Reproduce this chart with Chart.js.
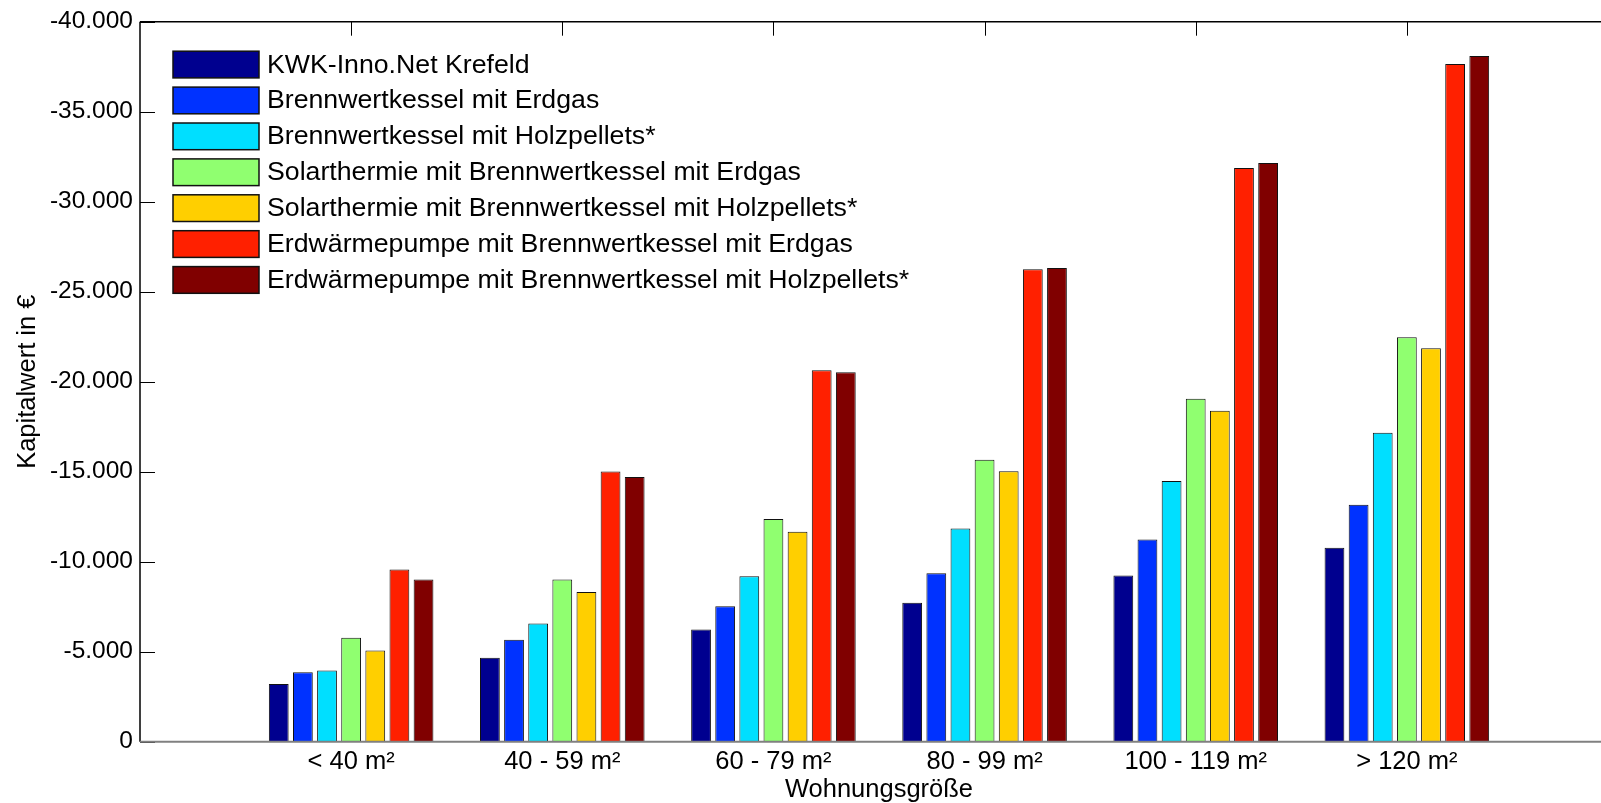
<!DOCTYPE html>
<html>
<head>
<meta charset="utf-8">
<script src="https://cdn.jsdelivr.net/npm/chart.js@4/dist/chart.umd.min.js"></script>
<style>
  html, body { margin: 0; padding: 0; background: #fff; overflow: hidden; }
  canvas { display: block; }
</style>
</head>
<body>
<canvas id="c" width="1620" height="803"></canvas>
<script>
// Kapitalwert in € per Wohnungsgröße
const categories = ['< 40 m²', '40 - 59 m²', '60 - 79 m²', '80 - 99 m²', '100 - 119 m²', '> 120 m²'];
const seriesNames = [
  'KWK-Inno.Net Krefeld',
  'Brennwertkessel mit Erdgas',
  'Brennwertkessel mit Holzpellets*',
  'Solarthermie mit Brennwertkessel mit Erdgas',
  'Solarthermie mit Brennwertkessel mit Holzpellets*',
  'Erdwärmepumpe mit Brennwertkessel mit Erdgas',
  'Erdwärmepumpe mit Brennwertkessel mit Holzpellets*'
];
const kwk         = [-3200, -4670, -6230, -7720, -9230, -10770];
const bwkErdgas   = [-3860, -5670, -7530, -9360, -11240, -13170];
const bwkHolz     = [-3950, -6560, -9190, -11850, -14480, -17170];
const solarErdgas = [-5780, -9010, -12370, -15670, -19050, -22470];
const solarHolz   = [-5060, -8310, -11670, -15030, -18390, -21860];
const erdErdgas   = [-9570, -15010, -20630, -26250, -31870, -37650];
const erdHolz     = [-9010, -14700, -20530, -26310, -32150, -38090];
const yTicks = [0, -5000, -10000, -15000, -20000, -25000, -30000, -35000, -40000];

const colors = ['#00008f', '#0032ff', '#00dfff', '#90ff70', '#ffcf00', '#ff2000', '#800000'];
const FONT = '"Liberation Sans", Arial, sans-serif';

function fmt(v) {
  if (v === 0) return '0';
  const s = String(Math.abs(v)).replace(/\B(?=(\d{3})+(?!\d))/g, '.');
  return (v < 0 ? '-' : '') + s;
}

const allSeries = [kwk, bwkErdgas, bwkHolz, solarErdgas, solarHolz, erdErdgas, erdHolz];
const datasets = allSeries.map((vals, i) => ({
  label: seriesNames[i],
  data: vals.map((v, j) => ({ x: j + 1, y: v })),
  backgroundColor: colors[i],
  borderColor: '#111',
  borderWidth: 1,
  barPercentage: 0.82,
  categoryPercentage: 0.8
}));

// axes box, inward ticks (MATLAB style)
const axesPlugin = {
  id: 'axesBox',
  beforeDatasetsDraw(chart) {
    const { ctx, chartArea: a, scales: { x } } = chart;
    ctx.save();
    ctx.strokeStyle = '#000';
    ctx.lineWidth = 1;
    categories.forEach((c, i) => {
      const px = Math.round(x.getPixelForValue(i + 1)) + 0.5;
      ctx.beginPath();
      ctx.moveTo(px, a.bottom);
      ctx.lineTo(px, a.bottom - 14);
      ctx.stroke();
    });
    ctx.restore();
  },
  afterDatasetsDraw(chart) {
    const { ctx, chartArea: a, scales: { x, y } } = chart;
    ctx.save();
    ctx.strokeStyle = '#000';
    ctx.lineWidth = 1.5;
    ctx.beginPath();
    ctx.moveTo(a.left, a.top);
    ctx.lineTo(a.right, a.top);
    ctx.moveTo(a.left, a.top);
    ctx.lineTo(a.left, a.bottom);
    ctx.stroke();
    ctx.lineWidth = 1;
    yTicks.forEach(v => {
      const py = Math.round(y.getPixelForValue(v)) + 0.5;
      ctx.beginPath();
      ctx.moveTo(a.left, py);
      ctx.lineTo(a.left + 15, py);
      ctx.stroke();
    });
    categories.forEach((c, i) => {
      const px = Math.round(x.getPixelForValue(i + 1)) + 0.5;
      ctx.beginPath();
      ctx.moveTo(px, a.top);
      ctx.lineTo(px, a.top + 14);
      ctx.stroke();
    });
    ctx.strokeStyle = '#808080';
    ctx.lineWidth = 2;
    ctx.beginPath();
    ctx.moveTo(a.left, a.bottom);
    ctx.lineTo(a.right, a.bottom);
    ctx.stroke();

    // legend inside the axes
    const x0 = a.left + 33, y0 = a.top + 29.5;
    ctx.font = '26.7px ' + FONT;
    ctx.textBaseline = 'middle';
    chart.data.datasets.forEach((ds, i) => {
      const top = y0 + i * 35.9;
      ctx.fillStyle = ds.backgroundColor;
      ctx.fillRect(x0, top, 86, 26.7);
      ctx.strokeStyle = '#111';
      ctx.lineWidth = 1.5;
      ctx.strokeRect(x0, top, 86, 26.7);
      ctx.fillStyle = '#000';
      ctx.fillText(ds.label, x0 + 94, top + 14);
    });
    ctx.restore();
  }
};

new Chart(document.getElementById('c'), {
  type: 'bar',
  data: { datasets },
  options: {
    responsive: false,
    animation: false,
    layout: { padding: { top: 19.5, right: 2, bottom: 0, left: 0 } },
    plugins: { legend: { display: false }, tooltip: { enabled: false } },
    scales: {
      x: {
        type: 'linear',
        min: 0,
        max: 7,
        offset: false,
        grid: { display: false, drawTicks: false },
        border: { display: false },
        afterBuildTicks: s => { s.ticks = categories.map((c, i) => ({ value: i + 1 })); },
        afterFit: s => { s.height = 61.3; },
        ticks: {
          autoSkip: false,
          maxRotation: 0,
          padding: 5,
          color: '#000',
          font: { family: FONT, size: 25.5, lineHeight: 1.2 },
          callback: v => categories[v - 1] || ''
        },
        title: {
          display: true,
          text: 'Wohnungsgröße',
          color: '#000',
          padding: 0,
          font: { family: FONT, size: 25.5, lineHeight: 1 }
        }
      },
      y: {
        type: 'linear',
        reverse: true,
        min: -40000,
        max: 0,
        grid: { display: false, drawTicks: false },
        border: { display: false },
        afterBuildTicks: s => { s.ticks = yTicks.map(v => ({ value: v })); },
        afterFit: s => { s.width = 140; },
        ticks: {
          padding: 7,
          color: '#000',
          font: { family: FONT, size: 24.5 },
          callback: v => fmt(v)
        },
        title: {
          display: true,
          text: 'Kapitalwert in €',
          color: '#000',
          padding: { top: 13, bottom: 0 },
          font: { family: FONT, size: 25.5, lineHeight: 1.2 }
        }
      }
    }
  },
  plugins: [axesPlugin]
});
</script>
</body>
</html>
